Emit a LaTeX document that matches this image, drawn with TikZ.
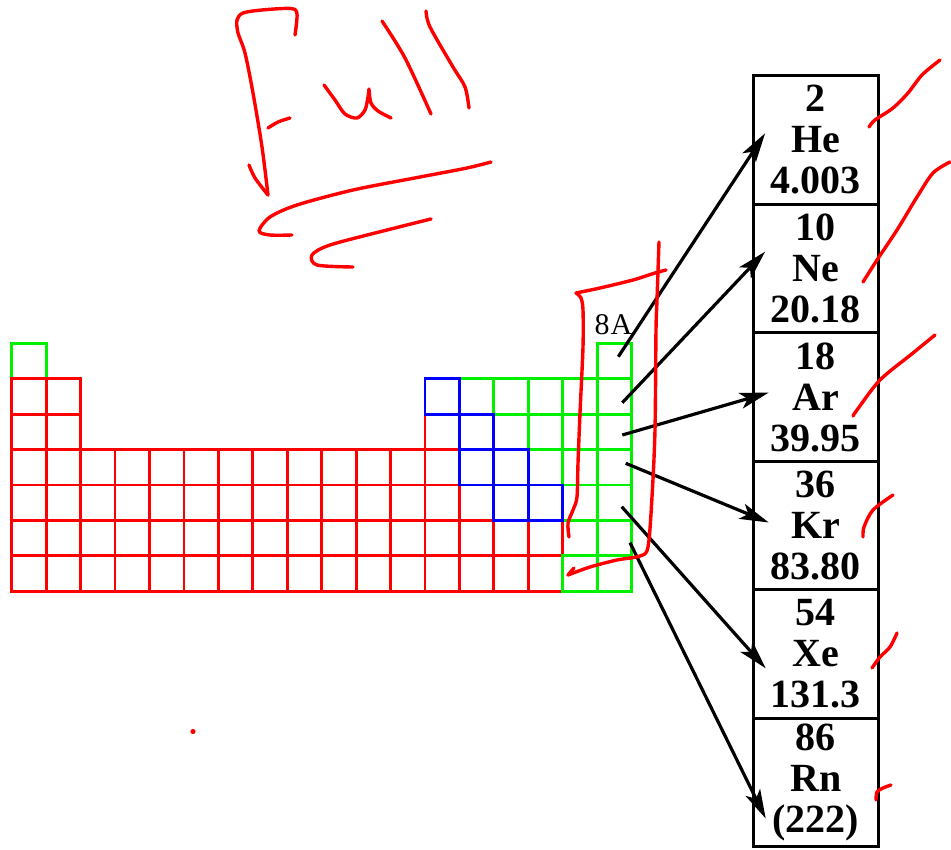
\documentclass[tikz,border=0pt]{standalone}
\usepackage{fontspec}
\setmainfont{Liberation Serif}
\usepackage{tikz}
\usetikzlibrary{arrows.meta,positioning}
\definecolor{ptred}{RGB}{255,0,0}
\definecolor{ptgreen}{RGB}{0,240,0}
\definecolor{ptblue}{RGB}{0,0,255}
% one square of the table: column, row, colour
\newcommand{\ptcell}[3]{\draw[#3, line width=2.8pt] ({11.7+(#1-1)*34.44},{343.3+(#2-1)*35.4}) rectangle ++(34.44,35.4);}

\begin{document}
\begin{tikzpicture}[x=1pt,y=-1pt,node distance=128.5pt,on grid,
    elem/.style={draw, line width=3.2pt, minimum width=125pt, minimum height=128.5pt, inner sep=0pt, align=center, font=\fontsize{40}{41}\selectfont\bfseries},
    gas arrow/.style={-{Stealth[length=29pt,width=16pt,inset=7pt]}, line width=3.2pt},
    ink/.style={ptred, line width=3.4pt, line cap=round, line join=round}]
    \useasboundingbox (0,0) rectangle (951,850);

    % table
    \ptcell{1}{1}{ptgreen}
    \ptcell{18}{1}{ptgreen}
    \foreach \r/\first in {2/14,3/15,4/16,5/17,6/17}
        \foreach \c in {\first,...,18} \ptcell{\c}{\r}{ptgreen};
    \foreach \r/\last in {2/2,3/2,4/13,5/14,6/16,7/16}
        \foreach \c in {1,...,\last} \ptcell{\c}{\r}{ptred};
    \ptcell{13}{3}{ptred}
    \foreach \c in {17,18} \ptcell{\c}{7}{ptgreen};
    \foreach \c/\r in {13/2,14/3,14/4,15/4,15/5,16/5} \ptcell{\c}{\r}{ptblue};

    \node (grp) at (613.5,325) {\fontsize{30}{30}\selectfont 8\kern1pt A};

    % noble gases
    \node[elem] (he) at (815.8,140) {2\\He\\4.003};
    \node[elem] (ne) [below=of he] {10\\Ne\\20.18};
    \node[elem] (ar) [below=of ne] {18\\Ar\\39.95};
    \node[elem] (kr) [below=of ar] {36\\Kr\\83.80};
    \node[elem] (xe) [below=of kr] {54\\Xe\\131.3};
    \node[elem] (rn) [below=of xe] {86\\Rn\\(222)};

    \coordinate (g1) at (618.3,356.7);
    \coordinate (g2) at (622.3,402.7);
    \coordinate (g3) at (622.3,435);
    \coordinate (g4) at (625.7,463.3);
    \coordinate (g5) at (621.7,506.7);
    \coordinate (g6) at (630,542.7);

    \draw[gas arrow] (g1) -- ([shift={(13.4,-6.7)}]he.west);
    \draw[gas arrow] (g2) -- ([shift={(13.4,-16.8)}]ne.west);
    \draw[gas arrow] (g3) -- ([shift={(17,-4.4)}]ar.west);
    \draw[gas arrow] (g4) -- ([shift={(17,-3)}]kr.west);
    \draw[gas arrow] (g5) -- ([shift={(14,14.3)}]xe.west);
    \draw[gas arrow] (g6) -- ([shift={(14,36)}]rn.west);

    % red ink
    \draw[ink] plot[smooth] coordinates {(295,35) (297,14) (291,8.5) (262,10) (243,13) (237,20) (238,33) (245,53) (253,93) (262,147) (268,195)};
    \draw[ink] plot[smooth] coordinates {(249,165) (255,178) (268,195)};
    \draw[ink] plot[smooth] coordinates {(268,128) (278,122) (290,118)};
    \draw[ink] plot[smooth] coordinates {(324,85) (335,100) (345,114) (357,118) (365,110) (368,97) (369,89)};
    \draw[ink] plot[smooth] coordinates {(369,90) (371,103) (378,111) (391,118)};
    \draw[ink] plot[smooth] coordinates {(382,21) (405,58) (431,114)};
    \draw[ink] plot[smooth] coordinates {(426,11) (430,27) (453,67) (465,87) (469,108)};
    \draw[ink] plot[smooth] coordinates {(491,162) (467,168) (420,177) (353,190) (297,205) (270,217) (259,231) (270,235) (292,235)};
    \draw[ink] plot[smooth] coordinates {(431,219) (387,230) (330,245) (312,255) (317,265) (353,267)};

    \draw[ink] plot[smooth] coordinates {(666,270) (655,273) (633,280) (600,288) (576,293)};
    \draw[ink] plot[smooth] coordinates {(576,293) (581,298) (583,310) (583,347) (580,413) (578,463) (577,497) (573,510) (568,523) (569,537)};
    \draw[ink] plot[smooth] coordinates {(659,242) (657,300) (656,330) (655,430) (652,497) (648,547) (640,556) (617,560) (590,567) (568,575)};
    \draw[ink] (568,575) -- (574,568);

    \draw[ink] plot[smooth] coordinates {(869,127) (875,120) (893,108) (908,93) (922,75) (940,60)};
    \draw[ink] plot[smooth] coordinates {(863,282) (877,260) (897,230) (917,197) (933,173) (950,162)};
    \draw[ink] plot[smooth] coordinates {(853,416) (857,410) (880,380) (913,353) (935,335)};
    \draw[ink] plot[smooth] coordinates {(863,537) (864,527) (873,510) (893,495)};
    \draw[ink] plot[smooth] coordinates {(872,668) (880,657) (890,647) (897,633)};
    \draw[ink] plot[smooth] coordinates {(876,800) (877,792) (883,788) (891,785)};
    \fill[ptred] (193,731.5) circle (2.6);
\end{tikzpicture}
\end{document}
